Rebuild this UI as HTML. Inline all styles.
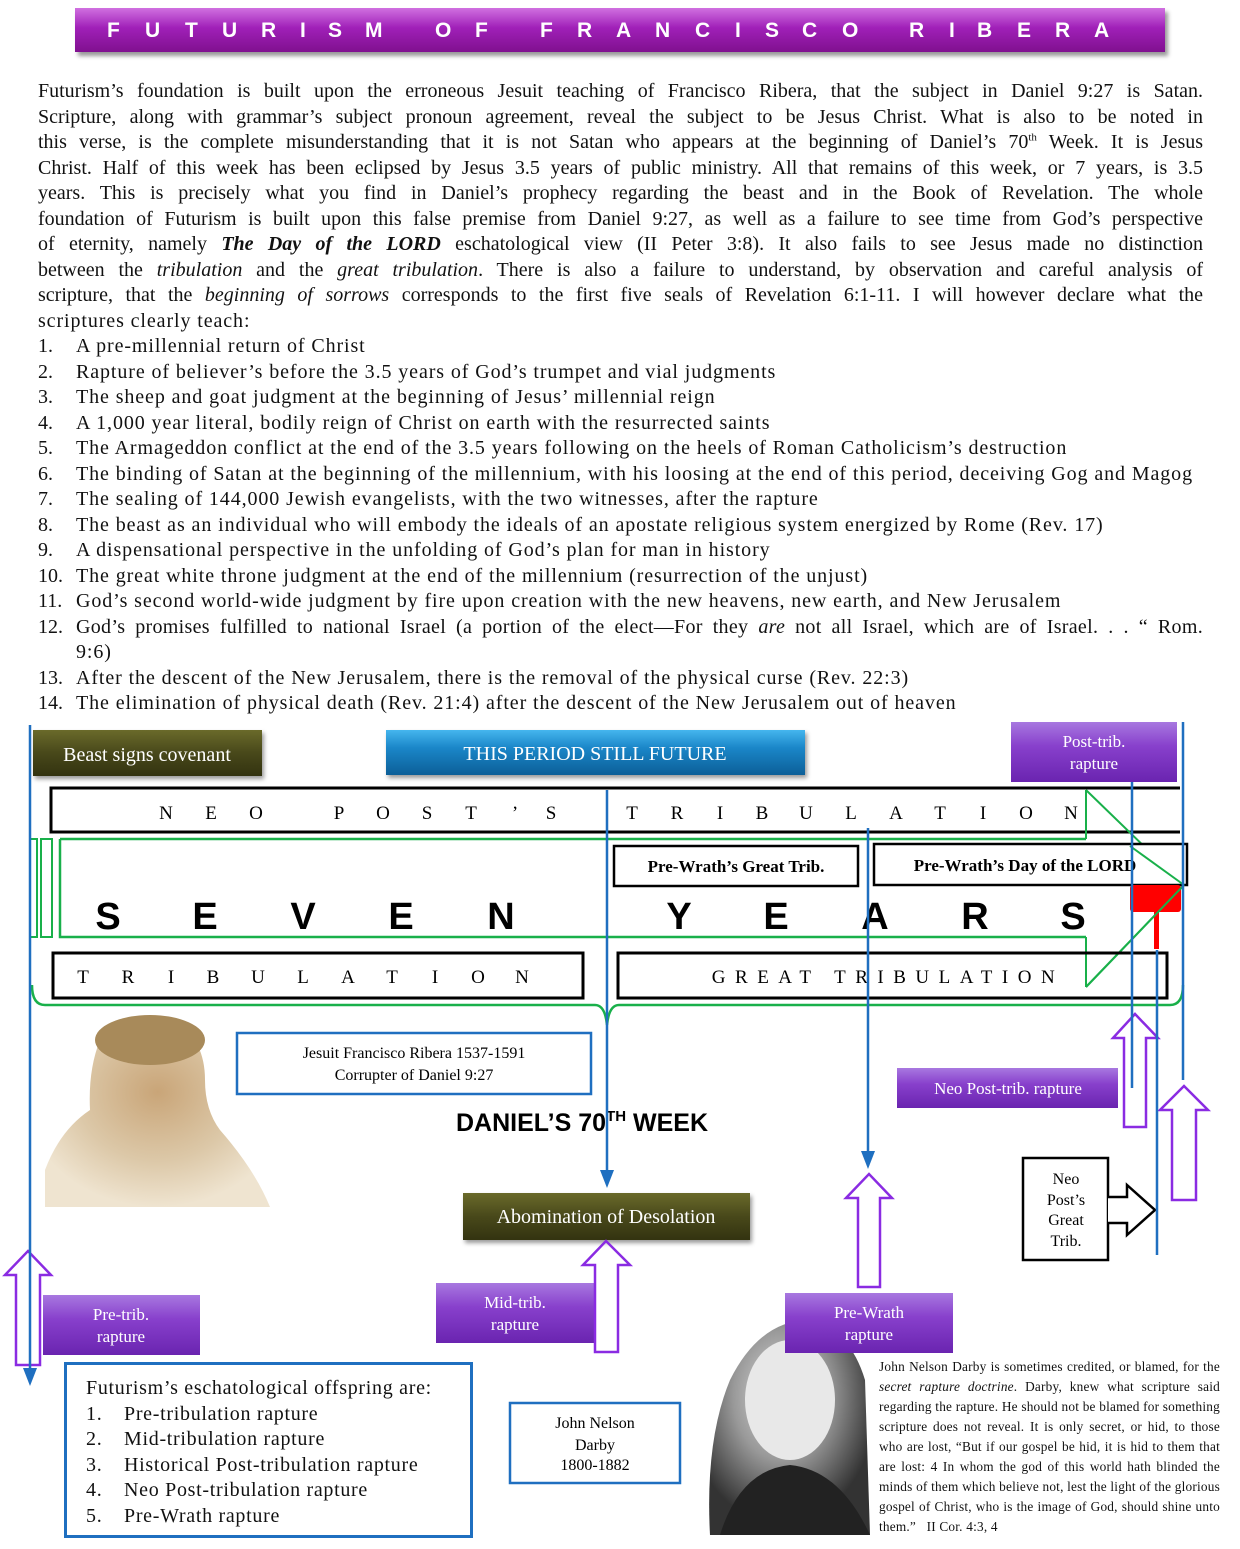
<!DOCTYPE html>
<html><head><meta charset="utf-8">
<style>
html,body{margin:0;padding:0;background:#fff;}
body{width:1240px;height:1549px;position:relative;overflow:hidden;font-family:"Liberation Serif",serif;color:#111;}
.title{position:absolute;left:75px;top:8px;width:1090px;height:44px;background:linear-gradient(#d070e0,#a020b8 45%,#80108f);box-shadow:3px 4px 4px #999;color:#fff;font-family:"Liberation Sans",sans-serif;font-weight:bold;font-size:21px;line-height:46px;}
.title span{position:absolute;top:0}
.txt{position:absolute;left:38px;top:79px;width:1165px;font-size:20px;line-height:25.5px;}
.j{text-align:justify;text-align-last:justify;}
.li{position:relative;padding-left:38px;white-space:nowrap;letter-spacing:0.9px;}
.li b.n{position:absolute;left:0;font-weight:normal;letter-spacing:0}
svg{position:absolute;left:0;top:0;}
.darby{position:absolute;left:879px;top:1357px;width:341px;font-size:13.3px;line-height:20px;text-align:justify;letter-spacing:0.2px;}
.off{position:absolute;left:64px;top:1362px;width:409px;height:176px;border:3px solid #1f6fc0;box-sizing:border-box;font-size:20px;line-height:25.5px;padding:11px 0 0 19px;letter-spacing:0.7px;}
.off div{position:relative;padding-left:38px;}
.off div b{position:absolute;left:0;font-weight:normal}
</style></head><body>
<div class="title">
<span style="left:32px">F</span><span style="left:70px">U</span><span style="left:110px">T</span><span style="left:147px">U</span><span style="left:186px">R</span><span style="left:225px">I</span><span style="left:253px">S</span><span style="left:290px">M</span>
<span style="left:360px">O</span><span style="left:400px">F</span>
<span style="left:465px">F</span><span style="left:502px">R</span><span style="left:541px">A</span><span style="left:580px">N</span><span style="left:620px">C</span><span style="left:660px">I</span><span style="left:690px">S</span><span style="left:727px">C</span><span style="left:767px">O</span>
<span style="left:834px">R</span><span style="left:874px">I</span><span style="left:902px">B</span><span style="left:942px">E</span><span style="left:980px">R</span><span style="left:1019px">A</span>
</div>
<div class="txt">
<div class="j">Futurism’s foundation is built upon the erroneous Jesuit teaching of Francisco Ribera, that the subject in Daniel 9:27 is Satan.</div>
<div class="j">Scripture, along with grammar’s subject pronoun agreement, reveal the subject to be Jesus Christ. What is also to be noted in</div>
<div class="j">this verse, is the complete misunderstanding that it is not Satan who appears at the beginning of Daniel’s 70<sup style="font-size:11px;line-height:0">th</sup> Week. It is Jesus</div>
<div class="j">Christ. Half of this week has been eclipsed by Jesus 3.5 years of public ministry. All that remains of this week, or 7 years, is 3.5</div>
<div class="j">years. This is precisely what you find in Daniel’s prophecy regarding the beast and in the Book of Revelation. The whole</div>
<div class="j">foundation of Futurism is built upon this false premise from Daniel 9:27, as well as a failure to see time from God’s perspective</div>
<div class="j">of eternity, namely <b><i>The Day of the LORD</i></b> eschatological view (II Peter 3:8). It also fails to see Jesus made no distinction</div>
<div class="j">between the <i>tribulation</i> and the <i>great tribulation</i>. There is also a failure to understand, by observation and careful analysis of</div>
<div class="j">scripture, that the <i>beginning of sorrows</i> corresponds to the first five seals of Revelation 6:1-11. I will however declare what the</div>
<div style="letter-spacing:0.9px">scriptures clearly teach:</div>
<div class="li"><b class="n">1.</b>A pre-millennial return of Christ</div>
<div class="li"><b class="n">2.</b>Rapture of believer’s before the 3.5 years of God’s trumpet and vial judgments</div>
<div class="li"><b class="n">3.</b>The sheep and goat judgment at the beginning of Jesus’ millennial reign</div>
<div class="li"><b class="n">4.</b>A 1,000 year literal, bodily reign of Christ on earth with the resurrected saints</div>
<div class="li"><b class="n">5.</b>The Armageddon conflict at the end of the 3.5 years following on the heels of Roman Catholicism’s destruction</div>
<div class="li"><b class="n">6.</b>The binding of Satan at the beginning of the millennium, with his loosing at the end of this period, deceiving Gog and Magog</div>
<div class="li"><b class="n">7.</b>The sealing of 144,000 Jewish evangelists, with the two witnesses, after the rapture</div>
<div class="li"><b class="n">8.</b>The beast as an individual who will embody the ideals of an apostate religious system energized by Rome (Rev. 17)</div>
<div class="li"><b class="n">9.</b>A dispensational perspective in the unfolding of God’s plan for man in history</div>
<div class="li"><b class="n">10.</b>The great white throne judgment at the end of the millennium (resurrection of the unjust)</div>
<div class="li"><b class="n">11.</b>God’s second world-wide judgment by fire upon creation with the new heavens, new earth, and New Jerusalem</div>
<div class="li" style="white-space:normal;text-align:justify;text-align-last:justify;letter-spacing:0.3px"><b class="n">12.</b>God’s promises fulfilled to national Israel (a portion of the elect—For they <i>are</i> not all Israel, which are of Israel. . . “ Rom.</div>
<div class="li">9:6)</div>
<div class="li"><b class="n">13.</b>After the descent of the New Jerusalem, there is the removal of the physical curse (Rev. 22:3)</div>
<div class="li"><b class="n">14.</b>The elimination of physical death (Rev. 21:4) after the descent of the New Jerusalem out of heaven</div>
</div>

<svg width="1240" height="1549" viewBox="0 0 1240 1549">
<defs>
<linearGradient id="ol" x1="0" y1="0" x2="0" y2="1"><stop offset="0" stop-color="#6a6a2a"/><stop offset="0.5" stop-color="#48481a"/><stop offset="1" stop-color="#333310"/></linearGradient>
<linearGradient id="bl" x1="0" y1="0" x2="0" y2="1"><stop offset="0" stop-color="#45b6ee"/><stop offset="0.4" stop-color="#1a86c8"/><stop offset="1" stop-color="#0c5f98"/></linearGradient>
<linearGradient id="pu" x1="0" y1="0" x2="0" y2="1"><stop offset="0" stop-color="#a878e0"/><stop offset="0.4" stop-color="#8840cc"/><stop offset="1" stop-color="#6a24b0"/></linearGradient>
<radialGradient id="rib" cx="0.5" cy="0.4" r="0.6"><stop offset="0" stop-color="#c9a578"/><stop offset="0.6" stop-color="#dcc8a8"/><stop offset="1" stop-color="#efe4d0"/></radialGradient>
<radialGradient id="dar" cx="0.45" cy="0.35" r="0.6"><stop offset="0" stop-color="#ddd"/><stop offset="0.5" stop-color="#999"/><stop offset="1" stop-color="#333"/></radialGradient>
</defs>
<g font-family="Liberation Serif,serif">
<rect x="33" y="730" width="229" height="46" fill="url(#ol)" filter="drop-shadow(2px 3px 2px #999)"/>
<text x="147" y="761" fill="#fff" font-size="20" text-anchor="middle">Beast signs covenant</text>
<rect x="386" y="730" width="419" height="45" fill="url(#bl)" filter="drop-shadow(2px 3px 2px #999)"/>
<text x="595" y="760" fill="#fff" font-size="20" text-anchor="middle">THIS PERIOD STILL FUTURE</text>
<rect x="1011" y="722" width="166" height="60" fill="url(#pu)"/>
<text x="1094" y="747" fill="#fff" font-size="17" text-anchor="middle">Post-trib.</text>
<text x="1094" y="769" fill="#fff" font-size="17" text-anchor="middle">rapture</text>

<path d="M1180,788 L51,788 L51,832 L1180,832" fill="none" stroke="#000" stroke-width="3"/>
<g font-size="19" text-anchor="middle">
<text x="166" y="819">N</text><text x="211" y="819">E</text><text x="256" y="819">O</text>
<text x="339" y="819">P</text><text x="383" y="819">O</text><text x="427" y="819">S</text><text x="471" y="819">T</text><text x="515" y="819">’</text><text x="551" y="819">S</text>
<text x="632" y="819">T</text><text x="677" y="819">R</text><text x="720" y="819">I</text><text x="762" y="819">B</text><text x="806" y="819">U</text><text x="851" y="819">L</text><text x="896" y="819">A</text><text x="940" y="819">T</text><text x="983" y="819">I</text><text x="1026" y="819">O</text><text x="1071" y="819">N</text>
</g>
<path d="M60,839 L1086,839 M60,839 L60,937 L1086,937" fill="none" stroke="#19b04a" stroke-width="2.5"/>
<path d="M1086,790 L1086,839 M1086,937 L1086,987 M1086,790 L1184,885 L1086,987" fill="none" stroke="#19b04a" stroke-width="2"/>
<rect x="30" y="839" width="7" height="98" fill="none" stroke="#19b04a" stroke-width="2"/>
<rect x="41" y="839" width="11" height="98" fill="none" stroke="#19b04a" stroke-width="2"/>

<rect x="614" y="846" width="244" height="40" fill="#fff" stroke="#000" stroke-width="2.5"/>
<text x="736" y="872" font-size="17" font-weight="bold" text-anchor="middle">Pre-Wrath’s Great Trib.</text>
<rect x="874" y="844" width="313" height="41" fill="#fff" stroke="#000" stroke-width="2.5"/>
<text x="1025" y="871" font-size="17" font-weight="bold" text-anchor="middle">Pre-Wrath’s Day of the LORD</text>
<path d="M1130,846 L1184,885" stroke="#19b04a" stroke-width="2"/>

<g font-family="Liberation Sans,sans-serif" font-weight="bold" font-size="38" text-anchor="middle">
<text x="108" y="929">S</text><text x="205" y="929">E</text><text x="303" y="929">V</text><text x="401" y="929">E</text><text x="501" y="929">N</text>
<text x="679" y="929">Y</text><text x="776" y="929">E</text><text x="875" y="929">A</text><text x="975" y="929">R</text><text x="1073" y="929">S</text>
</g>
<rect x="1130" y="885" width="51" height="27" fill="#f00" rx="3"/>
<rect x="1154" y="905" width="5" height="44" fill="#f00"/>
<path d="M1184,885 L1086,987" stroke="#19b04a" stroke-width="2"/>

<rect x="53" y="953" width="530" height="45" fill="none" stroke="#000" stroke-width="3"/>
<g font-size="19" text-anchor="middle">
<text x="83" y="983">T</text><text x="128" y="983">R</text><text x="171" y="983">I</text><text x="213" y="983">B</text><text x="258" y="983">U</text><text x="303" y="983">L</text><text x="348" y="983">A</text><text x="392" y="983">T</text><text x="435" y="983">I</text><text x="478" y="983">O</text><text x="522" y="983">N</text>
</g>
<rect x="618" y="953" width="549" height="45" fill="none" stroke="#000" stroke-width="3"/>
<text x="888" y="983" font-size="19" text-anchor="middle" letter-spacing="9.5">GREAT TRIBULATION</text>

<path d="M32,985 Q32,1005 45,1005 L595,1005 Q605,1005 607,1025 Q609,1005 619,1005 L1170,1005 Q1183,1005 1183,985" fill="none" stroke="#19b04a" stroke-width="2.5"/>

<path d="M45,1207 L45,1170 Q60,1130 90,1110 Q88,1070 100,1040 Q130,1005 175,1020 Q205,1040 205,1080 Q205,1110 220,1130 Q255,1170 270,1207 Z" fill="url(#rib)"/>
<ellipse cx="150" cy="1040" rx="55" ry="25" fill="#a88a5a"/>
<path d="M710,1535 Q705,1440 730,1380 Q760,1320 810,1320 Q850,1330 865,1380 L870,1535 Z" fill="url(#dar)"/>
<ellipse cx="790" cy="1400" rx="45" ry="60" fill="#e8e8e8"/>
<path d="M720,1535 Q740,1470 790,1465 Q840,1470 870,1535Z" fill="#222"/>

<rect x="237" y="1033" width="354" height="61" fill="#fff" stroke="#1f6fc0" stroke-width="2.5"/>
<text x="414" y="1058" font-size="16" text-anchor="middle">Jesuit Francisco Ribera 1537-1591</text>
<text x="414" y="1080" font-size="16" text-anchor="middle">Corrupter of Daniel 9:27</text>

<text x="456" y="1131" font-family="Liberation Sans,sans-serif" font-weight="bold" font-size="25">DANIEL’S 70<tspan font-size="15" dy="-10">TH</tspan><tspan dy="10"> WEEK</tspan></text>

<rect x="463" y="1193" width="287" height="47" fill="url(#ol)" filter="drop-shadow(2px 3px 2px #999)"/>
<text x="606" y="1223" fill="#fff" font-size="20" text-anchor="middle">Abomination of Desolation</text>

<rect x="897" y="1068" width="221" height="40" fill="url(#pu)"/>
<text x="1008" y="1094" fill="#fff" font-size="17" text-anchor="middle">Neo Post-trib. rapture</text>

<rect x="1023" y="1158" width="85" height="102" fill="#fff" stroke="#000" stroke-width="2.5"/>
<g font-size="16" text-anchor="middle"><text x="1066" y="1184">Neo</text><text x="1066" y="1205">Post’s</text><text x="1066" y="1225">Great</text><text x="1066" y="1246">Trib.</text></g>
<path d="M1108,1197 L1127,1197 L1127,1185 L1155,1210 L1127,1235 L1127,1223 L1108,1223" fill="#fff" stroke="#000" stroke-width="2.5"/>

<rect x="43" y="1295" width="157" height="60" fill="url(#pu)"/>
<text x="121" y="1320" fill="#fff" font-size="17" text-anchor="middle">Pre-trib.</text><text x="121" y="1342" fill="#fff" font-size="17" text-anchor="middle">rapture</text>
<rect x="436" y="1283" width="160" height="60" fill="url(#pu)"/>
<text x="515" y="1308" fill="#fff" font-size="17" text-anchor="middle">Mid-trib.</text><text x="515" y="1330" fill="#fff" font-size="17" text-anchor="middle">rapture</text>
<rect x="785" y="1293" width="168" height="60" fill="url(#pu)"/>
<text x="869" y="1318" fill="#fff" font-size="17" text-anchor="middle">Pre-Wrath</text><text x="869" y="1340" fill="#fff" font-size="17" text-anchor="middle">rapture</text>

<g fill="none" stroke="#8a2be2" stroke-width="2.5">
<path d="M16,1365 L16,1275 L5,1275 L28,1251 L51,1275 L40,1275 L40,1365 Z"/>
<path d="M595,1352 L595,1265 L583,1265 L606,1241 L630,1265 L618,1265 L618,1352 Z"/>
<path d="M858,1287 L858,1198 L846,1198 L869,1174 L892,1198 L880,1198 L880,1287 Z"/>
<path d="M1124,1127 L1124,1038 L1113,1038 L1135,1014 L1158,1038 L1146,1038 L1146,1127 Z"/>
<path d="M1172,1200 L1172,1110 L1160,1110 L1184,1086 L1208,1110 L1196,1110 L1196,1200 Z"/>
</g>

<g stroke="#1f6fc0" stroke-width="2.5" fill="none">
<line x1="30" y1="725" x2="30" y2="1372"/>
<line x1="607" y1="790" x2="607" y2="1174"/>
<line x1="868" y1="828" x2="868" y2="1155"/>
<line x1="1132" y1="782" x2="1132" y2="1088"/>
<line x1="1157" y1="950" x2="1157" y2="1255"/>
<line x1="1183" y1="722" x2="1183" y2="1080"/>
</g>
<g fill="#1f6fc0">
<path d="M23,1368 L37,1368 L30,1386Z"/>
<path d="M600,1170 L614,1170 L607,1188Z"/>
<path d="M861,1151 L875,1151 L868,1169Z"/>
</g>

<rect x="510" y="1403" width="170" height="80" fill="#fff" stroke="#1f6fc0" stroke-width="2.5"/>
<g font-size="16" text-anchor="middle"><text x="595" y="1428">John Nelson</text><text x="595" y="1450">Darby</text><text x="595" y="1470">1800-1882</text></g>
</g>
</svg>

<div class="off">
Futurism’s eschatological offspring are:
<div><b>1.</b>Pre-tribulation rapture</div>
<div><b>2.</b>Mid-tribulation rapture</div>
<div><b>3.</b>Historical Post-tribulation rapture</div>
<div><b>4.</b>Neo Post-tribulation rapture</div>
<div><b>5.</b>Pre-Wrath rapture</div>
</div>

<div class="darby">John Nelson Darby is sometimes credited, or blamed, for the <i>secret rapture doctrine</i>. Darby, knew what scripture said regarding the rapture. He should not be blamed for something scripture does not reveal. It is only secret, or hid, to those who are lost, “But if our gospel be hid, it is hid to them that are lost: 4 In whom the god of this world hath blinded the minds of them which believe not, lest the light of the glorious gospel of Christ, who is the image of God, should shine unto them.” &nbsp; II Cor. 4:3, 4</div>
</body></html>
